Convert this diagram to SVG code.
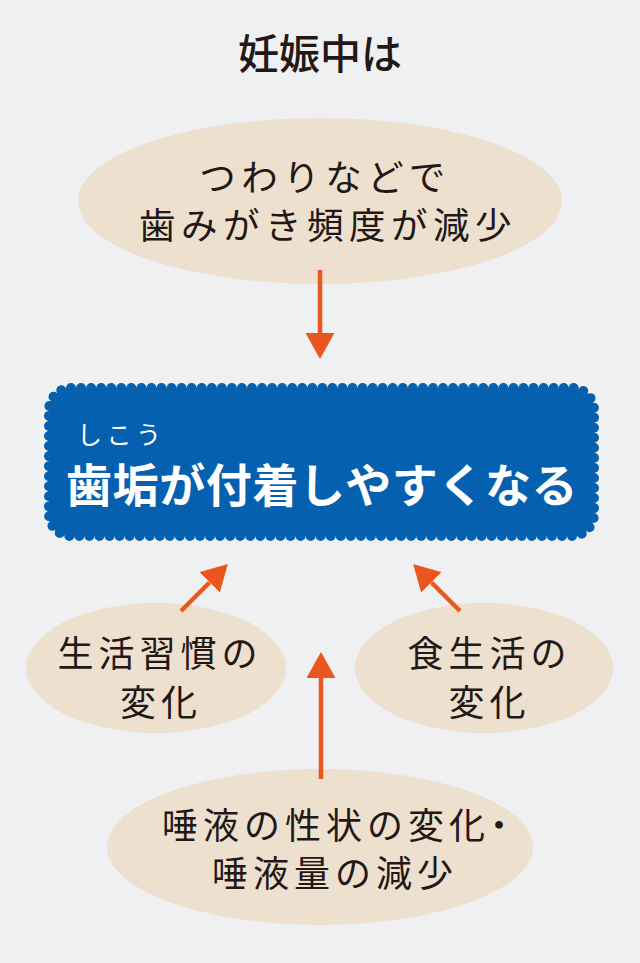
<svg xmlns="http://www.w3.org/2000/svg" width="640" height="963" viewBox="0 0 640 963">
<defs>
<style>
.t{font-family:"Noto Sans CJK JP","Noto Sans CJK SC",sans-serif;fill:#231815;}
.e{fill:#ede0cf;}
.b{font-size:36px;letter-spacing:5px;font-weight:400;}
.arr{stroke:#e9561f;stroke-width:4.5;fill:none;marker-end:url(#ah);}
</style>
<marker id="ah" markerUnits="userSpaceOnUse" markerWidth="26" markerHeight="29" viewBox="0 0 26 29" refX="0" refY="14.5" orient="auto">
<path d="M0,0 L26,14.5 L0,29 Z" fill="#e9561f"/>
</marker>
</defs>
<rect width="640" height="963" fill="#eff0f2"/>
<g id="title"><text class="t" x="320" y="69" text-anchor="middle" font-size="41" font-weight="500">妊娠中は</text></g>
<g id="node-top">
<ellipse class="e" cx="320" cy="201" rx="242" ry="83"/>
<text class="t b" x="325" y="191" text-anchor="middle" style="letter-spacing:5.5px;font-size:36.5px">つわりなどで</text>
<text class="t b" x="328" y="239" text-anchor="middle" style="letter-spacing:5.5px;font-size:36.5px">歯みがき頻度が減少</text>
</g>
<g id="node-main">
<path d="M71,388 H572 A22,22 0 0 1 594,410 V514 A22,22 0 0 1 572,536 H71 A22,22 0 0 1 49,514 V410 A22,22 0 0 1 71,388 Z" fill="#0660b0" stroke="#0660b0" stroke-width="10" stroke-dasharray="0 10" stroke-linecap="round" pathLength="1340"/>
<path d="M71,388 H572 A22,22 0 0 1 594,410 V514 A22,22 0 0 1 572,536 H71 A22,22 0 0 1 49,514 V410 A22,22 0 0 1 71,388 Z" fill="#0660b0"/>
<text class="t" x="77" y="444" font-size="25" style="fill:#ffffff;letter-spacing:4.5px">しこう</text>
<text class="t" x="66" y="502" font-size="46" font-weight="700" style="fill:#ffffff;letter-spacing:0.6px">歯垢が付着しやすくなる</text>
</g>
<g id="node-left">
<ellipse class="e" cx="156" cy="668" rx="130" ry="65"/>
<text class="t b" x="160" y="667" text-anchor="middle">生活習慣の</text>
<text class="t b" x="161" y="716" text-anchor="middle">変化</text>
</g>
<g id="node-right">
<ellipse class="e" cx="484" cy="668" rx="129" ry="65"/>
<text class="t b" x="489.5" y="667" text-anchor="middle">食生活の</text>
<text class="t b" x="489.5" y="716" text-anchor="middle">変化</text>
</g>
<g id="node-bottom">
<ellipse class="e" cx="320" cy="847" rx="213" ry="78"/>
<text class="t b" x="162" y="839">唾液の性状の変化<tspan style="font-feature-settings:'halt'">・</tspan></text>
<text class="t b" x="212" y="887">唾液量の減少</text>
</g>
<g id="connectors">
<line class="arr" x1="320" y1="270" x2="320" y2="333"/>
<line class="arr" x1="321" y1="779" x2="321" y2="678"/>
<line class="arr" x1="181" y1="611" x2="209.5" y2="582.5"/>
<line class="arr" x1="460" y1="611" x2="431.5" y2="582.5"/>
</g>
</svg>
